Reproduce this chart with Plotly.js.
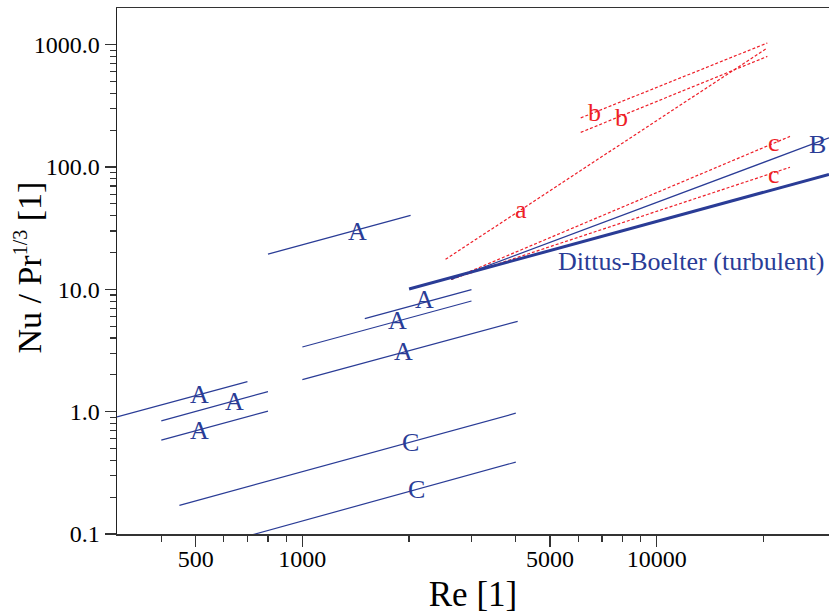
<!DOCTYPE html>
<html>
<head>
<meta charset="utf-8">
<script src="https://cdn.plot.ly/plotly-3.0.1.min.js"></script>
<style>html,body{margin:0;padding:0;background:#fff;}#chart{width:829px;height:614px;}</style>
</head>
<body>
<div id="chart"></div>
<script>
// ---- data (Re, Nu/Pr^(1/3)) : each correlation is a straight line on log-log axes ----
const reA1 = [300, 700],   nuA1 = [0.907, 1.76];
const reA2 = [400, 800],   nuA2 = [0.84, 1.46];
const reA3 = [400, 800],   nuA3 = [0.585, 1.01];
const reA4 = [800, 2020],  nuA4 = [19.4, 40.2];
const reA5 = [1500, 3000], nuA5 = [5.77, 9.94];
const reA6 = [1000, 3000], nuA6 = [3.38, 8.03];
const reA7 = [1000, 4050], nuA7 = [1.83, 5.48];
const reC1 = [450, 4000],  nuC1 = [0.1715, 0.972];
const reC2 = [450, 4000],  nuC2 = [0.0675, 0.387];
const reDB = [2000, 30600], nuDB = [10.06, 87.0];
const reB  = [2630, 30600], nuB  = [12.07, 173];
const reAa = [2535, 20500], nuAa = [17.6, 940];
const reB1 = [6100, 20500], nuB1 = [252, 1033];
const reB2 = [6100, 20500], nuB2 = [192, 802];
const reC3 = [2630, 23750], nuC3 = [12.07, 178];
const reC4 = [2630, 23750], nuC4 = [12.07, 99.6];

const xTickVals = [500, 1000, 5000, 10000];
const xTickText = ['500', '1000', '5000', '10000'];
const xMinorVals = [400, 600, 700, 800, 900, 2000, 3000, 4000, 6000, 7000, 8000, 9000, 20000];
const yTickVals = [0.1, 1, 10, 100, 1000];
const yTickText = ['0.1', '1.0', '10.0', '100.0', '1000.0'];
const yMinorVals = [0.2,0.3,0.4,0.5,0.6,0.7,0.8,0.9, 2,3,4,5,6,7,8,9, 20,30,40,50,60,70,80,90, 200,300,400,500,600,700,800,900];

const BLUE = 'rgb(42,60,150)';
const RED = 'rgb(238,30,40)';
const FONT = 'Liberation Serif, Times New Roman, serif';
const X_RANGE = [Math.log10(300), Math.log10(30600)];

function thin(x, y, xa) { return {x: x, y: y, xaxis: xa || 'x', type: 'scatter', mode: 'lines', line: {color: BLUE, width: 1.2}, hoverinfo: 'skip', showlegend: false}; }
function dashed(x, y) { return {x: x, y: y, type: 'scatter', mode: 'lines', line: {color: RED, width: 1.2, dash: '3px,2px'}, hoverinfo: 'skip', showlegend: false}; }

const traces = [
  thin(reA1, nuA1, 'x2'), thin(reA2, nuA2), thin(reA3, nuA3), thin(reA4, nuA4),
  thin(reA5, nuA5), thin(reA6, nuA6), thin(reA7, nuA7),
  thin(reC1, nuC1), thin(reC2, nuC2),
  dashed(reAa, nuAa), dashed(reB1, nuB1), dashed(reB2, nuB2), dashed(reC3, nuC3), dashed(reC4, nuC4),
  thin(reB, nuB),
  {x: reDB, y: nuDB, type: 'scatter', mode: 'lines', line: {color: BLUE, width: 3}, hoverinfo: 'skip', showlegend: false}
];

function lab(text, lx, ly, color, anchor) {
  return {text: text, x: lx, y: ly, xref: 'x', yref: 'y', showarrow: false,
          xanchor: anchor || 'center', yanchor: 'middle',
          font: {family: FONT, size: 26, color: color}};
}
const annotations = [
  lab('A', 2.709, 0.143, BLUE), lab('A', 2.808, 0.086, BLUE), lab('A', 2.709, -0.151, BLUE),
  lab('A', 3.155, 1.473, BLUE), lab('A', 3.345, 0.918, BLUE), lab('A', 3.268, 0.747, BLUE),
  lab('A', 3.285, 0.494, BLUE),
  lab('C', 3.305, -0.249, BLUE), lab('C', 3.322, -0.633, BLUE),
  lab('B', 4.452, 2.184, BLUE),
  lab('Dittus-Boelter (turbulent)', 3.716, 1.229, BLUE, 'left'),
  lab('a', 3.616, 1.653, RED), lab('b', 3.825, 2.445, RED), lab('b', 3.901, 2.404, RED),
  lab('c', 4.331, 2.200, RED), lab('c', 4.331, 1.939, RED),
  {text: 'Nu / Pr<sup><span style="font-size:20px">1/3</span></sup> [1]', xref: 'paper', yref: 'paper', x: -0.124, y: 0.506,
   xanchor: 'center', yanchor: 'middle', textangle: -90, showarrow: false,
   font: {family: FONT, size: 34, color: '#000'}}
];

const layout = {
  width: 829, height: 614,
  margin: {l: 117, r: 0, t: 8, b: 80},
  paper_bgcolor: '#fff', plot_bgcolor: '#fff',
  font: {family: FONT, color: '#000'},
  showlegend: false,
  xaxis: {
    type: 'log', range: X_RANGE,
    tickmode: 'array', tickvals: xTickVals, ticktext: xTickText, showticklabels: false,
    ticks: 'outside', ticklen: 11, tickwidth: 1.3, tickcolor: '#333',
    showline: true, linecolor: '#333', linewidth: 1.5, mirror: true,
    showgrid: false, zeroline: false,
    minor: {tickmode: 'array', tickvals: xMinorVals, ticks: 'outside', ticklen: 6, tickwidth: 1.2, tickcolor: '#333', showgrid: false},
    title: {text: 'Re [1]', font: {family: FONT, size: 35, color: '#000'}}
  },
  xaxis2: {
    type: 'log', range: X_RANGE, overlaying: 'x', anchor: 'y', side: 'bottom',
    tickmode: 'array', tickvals: xTickVals, ticktext: xTickText,
    ticks: '', showline: false, showgrid: false, zeroline: false,
    ticklabelstandoff: 8,
    tickfont: {family: FONT, size: 24, color: '#000'}
  },
  yaxis: {
    type: 'log', range: [-1, 3.3],
    tickmode: 'array', tickvals: yTickVals, ticktext: yTickText,
    ticks: 'outside', ticklen: 11, tickwidth: 1.3, tickcolor: '#333',
    showline: true, linecolor: '#222', linewidth: 1.5,
    showgrid: false, zeroline: false,
    tickfont: {family: FONT, size: 24, color: '#000'},
    minor: {tickmode: 'array', tickvals: yMinorVals, ticks: 'outside', ticklen: 6, tickwidth: 1.2, tickcolor: '#333', showgrid: false}
  },
  annotations: annotations
};

Plotly.newPlot('chart', traces, layout, {staticPlot: true, displayModeBar: false});
</script>
</body>
</html>
